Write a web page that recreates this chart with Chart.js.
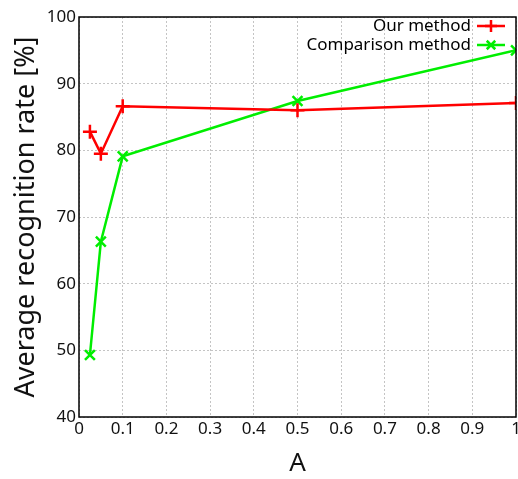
<!DOCTYPE html>
<html>
<head>
<meta charset="utf-8">
<script src="https://cdn.jsdelivr.net/npm/chart.js@4.4.1/dist/chart.umd.min.js"></script>
<style>
  html, body { margin: 0; padding: 0; background: #fff; }
  #wrap { width: 518px; height: 479px; overflow: hidden; }
</style>
</head>
<body>
<div id="wrap"><canvas id="chart" width="526" height="479"></canvas></div>
<script>
// values
var xValues = [0.025, 0.05, 0.1, 0.5, 1.0];
var ourMethod = [82.8, 79.5, 86.6, 86.0, 87.1];
var comparison = [49.3, 66.3, 79.1, 87.4, 95.0];
var seriesNames = ["Our method", "Comparison method"];
var xTicks = [0, 0.1, 0.2, 0.3, 0.4, 0.5, 0.6, 0.7, 0.8, 0.9, 1];
var yTicks = [40, 50, 60, 70, 80, 90, 100];

var FONT = "'Noto Sans', 'Open Sans', sans-serif";

function toPoints(ys) {
    return xValues.map(function (x, i) { return { x: x, y: ys[i] }; });
}

// box around the plot + legend in upper right corner
var boxAndLegend = {
    id: 'boxAndLegend',
    afterDatasetsDraw: function (chart) {
        var c = chart.ctx, a = chart.chartArea;
        c.save();
        c.strokeStyle = '#000';
        c.lineWidth = 1.5;
        c.strokeRect(a.left, a.top, a.right - a.left, a.bottom - a.top);

        c.font = '17px ' + FONT;
        c.textAlign = 'right';
        c.textBaseline = 'middle';
        var rows = [
            { y: a.top + 9, color: '#ff0000', style: 'cross' },
            { y: a.top + 28, color: '#00ee00', style: 'crossRot' }
        ];
        rows.forEach(function (r, i) {
            c.fillStyle = '#000';
            c.fillText(seriesNames[i], a.right - 45, r.y);
            c.strokeStyle = r.color;
            c.lineWidth = 2.5;
            c.beginPath();
            c.moveTo(a.right - 39, r.y);
            c.lineTo(a.right - 11, r.y);
            c.stroke();
            Chart.helpers.drawPoint(c, { pointStyle: r.style, radius: 6, borderWidth: 2.5 }, a.right - 25, r.y);
        });
        c.restore();
    }
};

new Chart(document.getElementById('chart'), {
    type: 'line',
    data: {
        datasets: [{
            label: seriesNames[0],
            data: toPoints(ourMethod),
            borderColor: '#ff0000',
            backgroundColor: '#ff0000',
            borderWidth: 2.5,
            pointStyle: 'cross',
            pointRadius: 7,
            pointBorderWidth: 2.5,
            tension: 0
        }, {
            label: seriesNames[1],
            data: toPoints(comparison),
            borderColor: '#00ee00',
            backgroundColor: '#00ee00',
            borderWidth: 2.5,
            pointStyle: 'crossRot',
            pointRadius: 7,
            pointBorderWidth: 2.5,
            tension: 0
        }]
    },
    options: {
        responsive: false,
        animation: false,
        layout: { padding: { top: 17, right: 10, left: 0, bottom: 0 } },
        plugins: {
            legend: { display: false },
            tooltip: { enabled: false }
        },
        scales: {
            x: {
                type: 'linear',
                min: 0,
                max: 1,
                afterBuildTicks: function (axis) {
                    axis.ticks = xTicks.map(function (v) { return { value: v }; });
                },
                afterFit: function (axis) { axis.height = 62; },
                grid: {
                    color: '#c4c4c4',
                    lineWidth: 1,
                    drawTicks: false
                },
                border: { display: false, dash: [2, 2] },
                ticks: {
                    color: '#111',
                    font: { family: FONT, size: 17 },
                    padding: 2,
                    maxRotation: 0,
                    autoSkip: false,
                    callback: function (v) { return String(Math.round(v * 10) / 10); }
                },
                title: {
                    display: true,
                    text: 'A',
                    color: '#111',
                    font: { family: FONT, size: 26 },
                    padding: { top: 4, bottom: 0 }
                }
            },
            y: {
                min: 40,
                max: 100,
                afterBuildTicks: function (axis) {
                    axis.ticks = yTicks.map(function (v) { return { value: v }; });
                },
                afterFit: function (axis) { axis.width = 79; },
                grid: {
                    color: '#c4c4c4',
                    lineWidth: 1,
                    drawTicks: false
                },
                border: { display: false, dash: [2, 2] },
                ticks: {
                    color: '#111',
                    font: { family: FONT, size: 17 },
                    padding: 3
                },
                title: {
                    display: true,
                    text: 'Average recognition rate [%]',
                    color: '#111',
                    font: { family: FONT, size: 27 },
                    padding: { top: 10, bottom: 4 }
                }
            }
        }
    },
    plugins: [boxAndLegend]
});
</script>
</body>
</html>
